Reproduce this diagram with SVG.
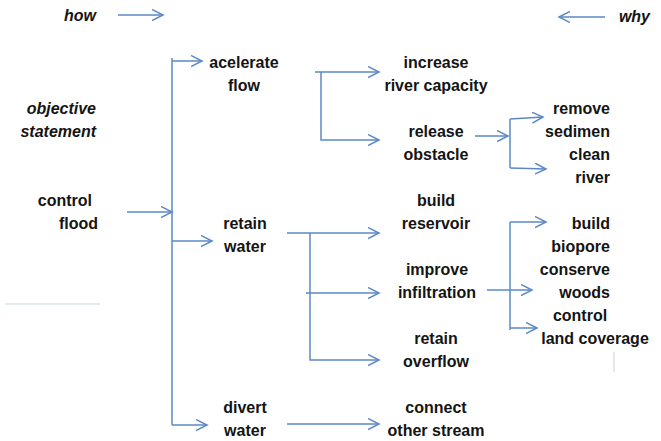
<svg xmlns="http://www.w3.org/2000/svg" width="661" height="441" viewBox="0 0 661 441">
<style>
text{font-family:"Liberation Sans",Arial,sans-serif;font-size:16px;font-weight:bold;fill:#141414}
.it{font-style:italic}
.m{text-anchor:middle}
.e{text-anchor:end}
.c{fill:none;stroke:#5b89c5;stroke-width:1.5}
.a{marker-end:url(#ah)}
</style>
<defs>
<marker id="ah" markerUnits="userSpaceOnUse" markerWidth="14" markerHeight="14" refX="11" refY="6" orient="auto">
<path d="M0,0.5 L11,6 L0,11.5" fill="none" stroke="#5b89c5" stroke-width="1.5"/>
</marker>
</defs>
<rect width="661" height="441" fill="#fff"/>
<g id="legend">
<text class="it e" x="96" y="21">how</text>
<text class="it e" x="650" y="22">why</text>
<text class="it e" x="96" y="114">objective</text>
<text class="it e" x="96" y="137">statement</text>
</g>
<g id="control-flood"><text class="e" x="92" y="206">control</text><text class="e" x="98" y="229">flood</text></g>
<g id="acelerate-flow"><text class="m" x="244" y="68">acelerate</text><text class="m" x="244" y="91">flow</text></g>
<g id="retain-water"><text class="m" x="245" y="229">retain</text><text class="m" x="245" y="252">water</text></g>
<g id="divert-water"><text class="m" x="245" y="413">divert</text><text class="m" x="245" y="436">water</text></g>
<g id="increase-capacity"><text class="m" x="436" y="68">increase</text><text class="m" x="436" y="91">river capacity</text></g>
<g id="release-obstacle"><text class="m" x="436" y="137">release</text><text class="m" x="436" y="160">obstacle</text></g>
<g id="build-reservoir"><text class="m" x="436" y="206">build</text><text class="m" x="436" y="229">reservoir</text></g>
<g id="improve-infiltration"><text class="m" x="437" y="275">improve</text><text class="m" x="437" y="298">infiltration</text></g>
<g id="retain-overflow"><text class="m" x="436" y="344">retain</text><text class="m" x="436" y="367">overflow</text></g>
<g id="connect-stream"><text class="m" x="436" y="413">connect</text><text class="m" x="436" y="436">other stream</text></g>
<g id="remove-sedimen"><text class="e" x="610" y="114">remove</text><text class="e" x="610" y="137">sedimen</text></g>
<g id="clean-river"><text class="e" x="610" y="160">clean</text><text class="e" x="610" y="183">river</text></g>
<g id="build-biopore"><text class="e" x="610" y="229">build</text><text class="e" x="610" y="252">biopore</text></g>
<g id="conserve-woods"><text class="e" x="610" y="275">conserve</text><text class="e" x="610" y="298">woods</text></g>
<g id="control-land"><text class="m" x="580" y="321">control</text><text class="m" x="595" y="344">land coverage</text></g>
<g id="connectors">
<path class="c a" d="M118,15 H163"/>
<path class="c a" d="M605,17 H559"/>
<path class="c" d="M172,58 V425"/>
<path class="c a" d="M172,61 H202"/>
<path class="c a" d="M127,212 H172"/>
<path class="c a" d="M172,241 H212"/>
<path class="c a" d="M172,425 H207"/>
<path class="c a" d="M315,72 H379"/>
<path class="c a" d="M321,72 V140 H379"/>
<path class="c a" d="M475,136 H508"/>
<path class="c" d="M510,119 V168"/>
<path class="c a" d="M510,119 L543,117"/>
<path class="c a" d="M510,168 L546,169"/>
<path class="c a" d="M287,233 H379"/>
<path class="c a" d="M310,233 V360 H379"/>
<path class="c a" d="M306,293 H379"/>
<path class="c a" d="M287,424 H379"/>
<path class="c" d="M510,222 V330"/>
<path class="c a" d="M510,222 H546"/>
<path class="c a" d="M487,290 H532"/>
<path class="c a" d="M510,328 H537"/>
</g>
<path d="M5,304 H100" stroke="#c8d6ea" stroke-width="1.2" fill="none"/>
<path d="M614,352 V372" stroke="#d0d0d0" stroke-width="1" fill="none"/>
</svg>
